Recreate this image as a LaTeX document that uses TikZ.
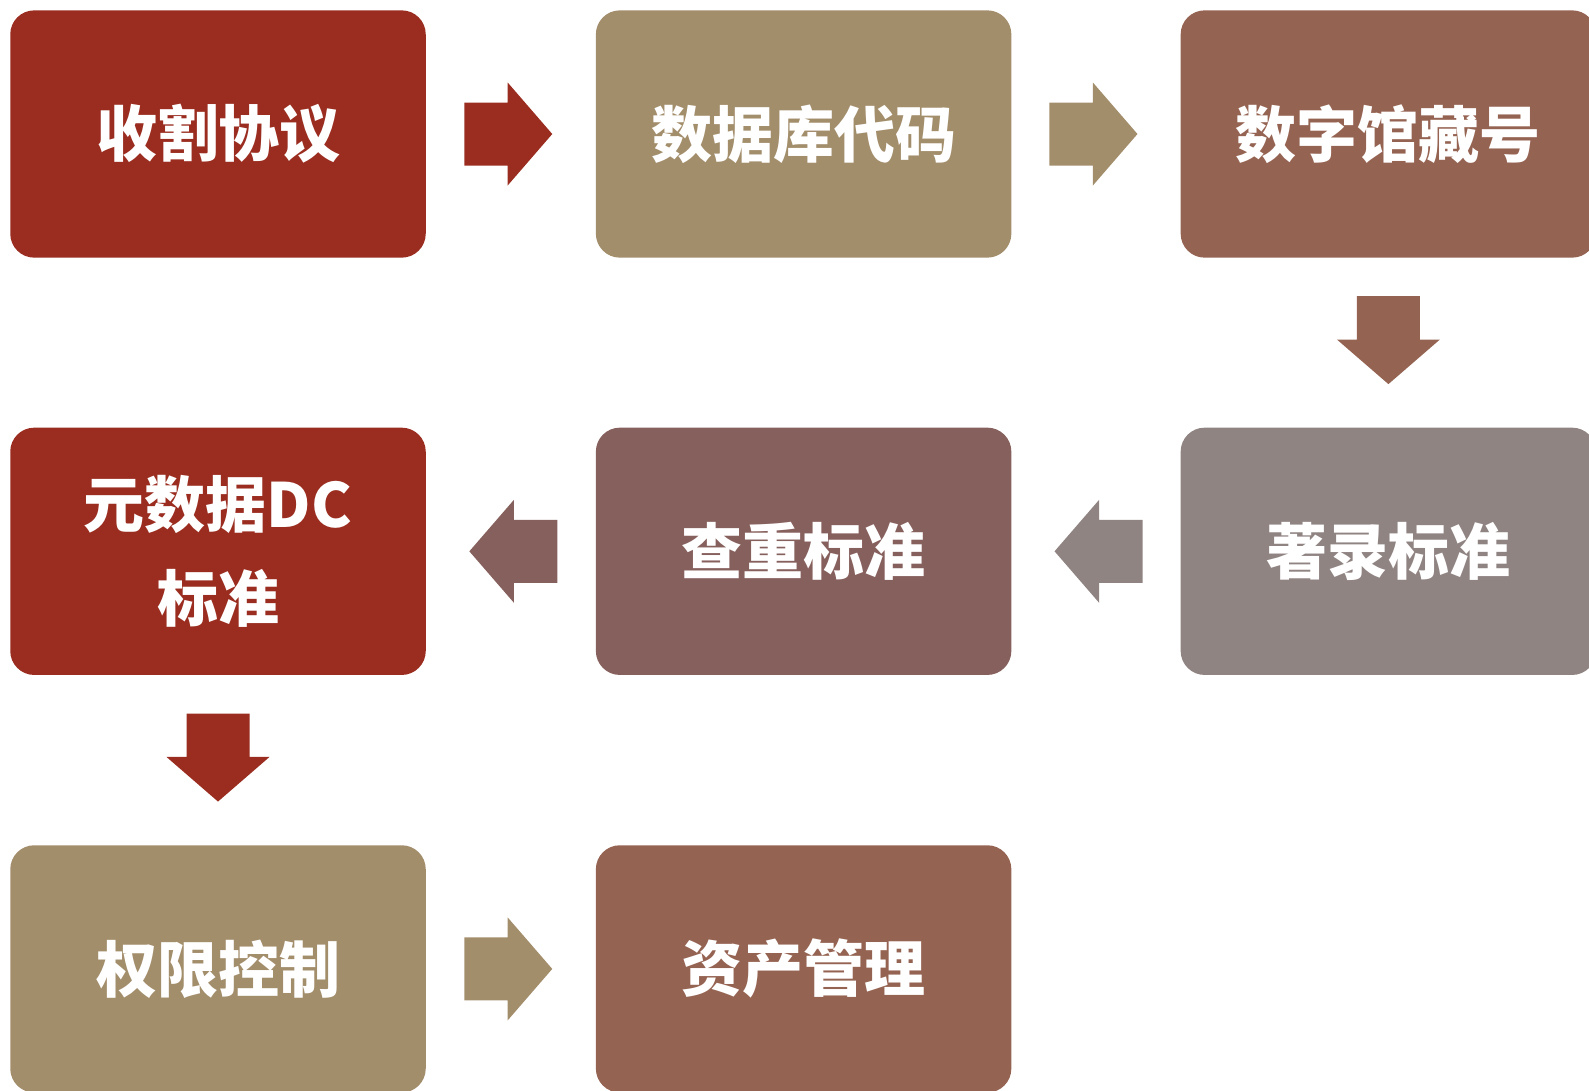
\documentclass[tikz,border=0pt]{standalone}
\usepackage{fontspec}
\newfontfamily\cjk{Noto Sans CJK SC}
\usetikzlibrary{calc}

\definecolor{rust}{HTML}{9A2D20}
\definecolor{khaki}{HTML}{A38E6C}
\definecolor{umber}{HTML}{956352}
\definecolor{mauve}{HTML}{86605D}
\definecolor{taupe}{HTML}{908483}

\begin{document}
\begin{tikzpicture}[x=1pt, y=-1pt,
  box/.style={rounded corners=24pt, minimum width=415.5pt, minimum height=247.3pt,
    inner sep=0pt, text=white, align=center, font={\cjk\bfseries\fontsize{61}{94}\selectfont}},
  pics/blockarrow/.style={code={
    \fill (-44,-31.5) -- (-0.6,-31.5) -- (-0.6,-51.5) -- (44,0)
      -- (-0.6,51.5) -- (-0.6,31.5) -- (-44,31.5) -- cycle;}}]

\useasboundingbox (0,0) rectangle (1589,1090);
\clip (0,0) rectangle (1589,1090);

% Riga 1
\node[box, fill=rust]  (harvest) at (218,134) {收割协议};
\node[box, fill=khaki] (dbcode)  at (803.6,134) {数据库代码};
\node[box, fill=umber] (callno)  at (1388.4,134) {数字馆藏号};

% Riga 2
\node[box, fill=taupe] (catalog)  at (1388.4,551.3) {著录标准};
\node[box, fill=mauve] (dedup)    at (803.6,551.3) {查重标准};
\node[box, fill=rust]  (metadata) at (218,551.3) {元数据DC\\标准};

% Riga 3
\node[box, fill=khaki] (access) at (218,968.9) {权限控制};
\node[box, fill=umber] (asset)  at (803.6,968.9) {资产管理};

% Frecce
\pic[fill=rust]  at ($(harvest.east)!0.485!(dbcode.west)$) {blockarrow};
\pic[fill=khaki] at ($(dbcode.east)!0.485!(callno.west)$) {blockarrow};
\pic[fill=umber, rotate=-90] at ($(callno.south)!0.485!(catalog.north)$) {blockarrow};
\pic[fill=taupe, rotate=180] at ($(catalog.west)!0.485!(dedup.east)$) {blockarrow};
\pic[fill=mauve, rotate=180] at ($(dedup.west)!0.485!(metadata.east)$) {blockarrow};
\pic[fill=rust, rotate=-90]  at ($(metadata.south)!0.485!(access.north)$) {blockarrow};
\pic[fill=khaki] at ($(access.east)!0.485!(asset.west)$) {blockarrow};

\end{tikzpicture}
\end{document}
